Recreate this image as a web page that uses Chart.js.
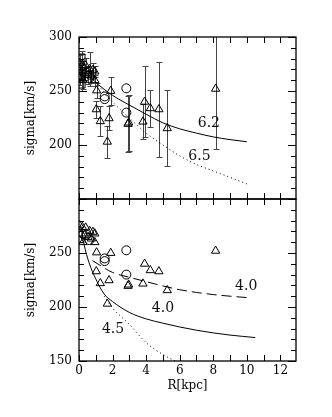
<!DOCTYPE html>
<html><head><meta charset="utf-8">
<script src="https://cdn.jsdelivr.net/npm/chart.js@4.4.1/dist/chart.umd.min.js"></script>
<style>
html,body{margin:0;padding:0;background:#fff;}
#wrap{position:relative;width:332px;height:417px;}
canvas{position:absolute;left:0;top:0;}
</style></head><body>
<div id="wrap"><canvas id="c1" width="332" height="417"></canvas><canvas id="c2" width="332" height="417"></canvas></div>
<script>
// ---- data ----
const triR = [0.04,0.2,0.4,0.64,0.83,0.94,0.14,0.34,0.54,0.74,0.94,0.04,0.24,1.05,1.89,1.03,1.27,1.79,1.69,2.96,2.92,3.81,3.91,4.25,4.76,5.26,8.14];
const triV = [275.6,274,273.5,270.4,269.5,268,268,266.4,264.8,263.3,260,261.8,260,250.5,250,233,222,224.7,203,220.7,219.5,221.6,240,234,233,215.5,252];
const triErr = [8,10,7,16,6,5,6,6,8,6,5,6,8,7,13,8,14,11,15,26,26,16,33,17,44,35,56];
const cirR = [2.82,2.82,1.53,1.53,0.62,0.45];
const cirV = [252.5,230,245,242.5,262,267];
const sqR = [0.15,0.15,0.15,0.15];
const sqV = [281,272,264,256];
const sqErr = [6,6,6,6];

const top62R = [0.5,1,2,3,4,5,6,7,8,9,10];
const top62V = [266,258,246,237,228.5,220.5,215,211,207.5,205,203];
const top65R = [1,2,3,4,5,6,7,8,9,10];
const top65V = [258,240,225,211,200,190,182,176,170,164];
const bot40dR = [0.8,2,3,4,5,6,7,8,9,10.2];
const bot40dV = [243,232,227.5,223.5,219.5,216,213.5,211.5,210,208.5];
const bot40sR = [0.1,0.3,0.6,1,1.5,2,3,4,5,6,7,8,9,10.5];
const bot40sV = [275,258,241,226,212,205,195,189,185,181.5,178.5,176,174,171.7];
const bot45R = [1.5,2,3,4,5,6];
const bot45V = [210,199,184,167,156,148];

const xLabelTicks = [0,2,4,6,8,10,12];
const xMinorTicks = [0,1,2,3,4,5,6,7,8,9,10,11,12];
const yMinorTicks = [150,160,170,180,190,200,210,220,230,240,250,260,270,280,290,300];
const yTopLabels = [200,250,300];
const yBotLabels = [150,200,250];

const pts = (R,V) => R.map((r,i)=>({x:r,y:V[i]}));

Chart.defaults.font.family = 'DejaVu Serif';
Chart.defaults.color = '#000';

const deco = {
  id:'deco',
  beforeDatasetsDraw(chart, args, o){
    const {ctx, chartArea:a, scales:{x,y}} = chart;
    ctx.save();
    ctx.beginPath(); ctx.rect(a.left,a.top,a.right-a.left,a.bottom-a.top); ctx.clip();
    ctx.strokeStyle = '#444'; ctx.lineWidth = 1;
    (o.err||[]).forEach(s=>{
      s.r.forEach((r,i)=>{
        const px = Math.round(x.getPixelForValue(r))+0.5;
        const lo = Math.round(y.getPixelForValue(s.v[i]-s.e[i]))+0.5;
        const hi = Math.round(y.getPixelForValue(s.v[i]+s.e[i]))+0.5;
        ctx.beginPath();
        ctx.moveTo(px,lo); ctx.lineTo(px,hi);
        ctx.moveTo(px-3,lo); ctx.lineTo(px+3,lo);
        ctx.moveTo(px-3,hi); ctx.lineTo(px+3,hi);
        ctx.stroke();
      });
    });
    ctx.restore();
  },
  afterDraw(chart, args, o){
    const {ctx, chartArea:a, scales:{x,y}} = chart;
    ctx.save();
    ctx.strokeStyle = '#000'; ctx.lineWidth = 1.3;
    ctx.strokeRect(a.left, a.top, a.right-a.left, a.bottom-a.top);
    ctx.lineWidth = 1;
    ctx.beginPath();
    xMinorTicks.forEach(v=>{
      const px = Math.round(x.getPixelForValue(v))+0.5;
      ctx.moveTo(px,a.top); ctx.lineTo(px,a.top+6);
      ctx.moveTo(px,a.bottom); ctx.lineTo(px,a.bottom-6);
    });
    yMinorTicks.forEach(v=>{
      const py = Math.round(y.getPixelForValue(v))+0.5;
      const len = v%50===0 ? 8 : 5;
      ctx.moveTo(a.left,py); ctx.lineTo(a.left+len,py);
      ctx.moveTo(a.right,py); ctx.lineTo(a.right-len,py);
    });
    ctx.stroke();
    ctx.fillStyle = '#111';
    ctx.font = '14px "DejaVu Serif"';
    ctx.textAlign = 'center'; ctx.textBaseline = 'middle';
    (o.notes||[]).forEach(n=>{
      ctx.fillText(n.t, x.getPixelForValue(n.x), y.getPixelForValue(n.y));
    });
    ctx.restore();
  }
};

function yScale(labels){
  return {
    type:'linear', min:150, max:300,
    afterBuildTicks: s => { s.ticks = labels.map(v=>({value:v})); },
    afterFit: s => { s.width = 58; },
    grid:{display:false, drawTicks:false}, border:{display:false},
    ticks:{font:{size:12}, padding:7, color:'#000'},
    title:{display:true, text:'sigma[km/s]', font:{size:12}, color:'#000', padding:{top:3,bottom:0}}
  };
}

const mk = (R,V,extra) => Object.assign({data:pts(R,V), borderColor:'#000', backgroundColor:'rgba(0,0,0,0)', borderWidth:1, pointRadius:0, showLine:false}, extra);
const curve = (R,V,dash) => mk(R,V,{showLine:true, tension:0.4, cubicInterpolationMode:'monotone', borderDash:dash, borderWidth:1});
const markers = (R,V,style,rad) => mk(R,V,{pointStyle:style, pointRadius:rad, pointBorderWidth:1, pointBorderColor:'#000', pointBackgroundColor:'rgba(0,0,0,0)'});

const common = {
  responsive:false, animation:false, events:[],
  plugins:{legend:{display:false}, tooltip:{enabled:false}},
};

new Chart(document.getElementById('c1'), {
  type:'scatter',
  data:{datasets:[
    curve(top62R, top62V, []),
    curve(top65R, top65V, [1,3]),
    markers(triR, triV, 'triangle', 4.8),
    markers(cirR, cirV, 'circle', 4.5),
    markers(sqR, sqV, 'rect', 5)
  ]},
  options:Object.assign({}, common, {
    layout:{padding:{left:21,right:36,top:37,bottom:218}},
    scales:{
      x:{type:'linear', min:0, max:12.93, display:false},
      y:yScale(yTopLabels)
    },
    plugins:Object.assign({}, common.plugins, {deco:{
      err:[{r:triR,v:triV,e:triErr},{r:sqR,v:sqV,e:sqErr}],
      notes:[{t:'6.2',x:7.74,y:220},{t:'6.5',x:7.18,y:189.8}]
    }})
  }),
  plugins:[deco]
});

new Chart(document.getElementById('c2'), {
  type:'scatter',
  data:{datasets:[
    curve(bot40dR, bot40dV, [10,5]),
    curve(bot40sR, bot40sV, []),
    curve(bot45R, bot45V, [1,3]),
    markers(triR, triV, 'triangle', 4.8),
    markers(cirR, cirV, 'circle', 4.5)
  ]},
  options:Object.assign({}, common, {
    layout:{padding:{left:21,right:36,top:199,bottom:20}},
    scales:{
      x:{type:'linear', min:0, max:12.93,
        afterBuildTicks: s => { s.ticks = xLabelTicks.map(v=>({value:v})); },
        afterFit: s => { s.height = 36; },
        grid:{display:false, drawTicks:false}, border:{display:false},
        ticks:{font:{size:12}, padding:3, color:'#000', maxRotation:0},
        title:{display:true, text:'R[kpc]', font:{size:12}, color:'#000', padding:{top:0,bottom:4}}
      },
      y:yScale(yBotLabels)
    },
    plugins:Object.assign({}, common.plugins, {deco:{
      err:[],
      notes:[{t:'4.0',x:9.96,y:219.2},{t:'4.0',x:5.0,y:198.5},{t:'4.5',x:2.03,y:179}]
    }})
  }),
  plugins:[deco]
});
</script>
</body></html>
